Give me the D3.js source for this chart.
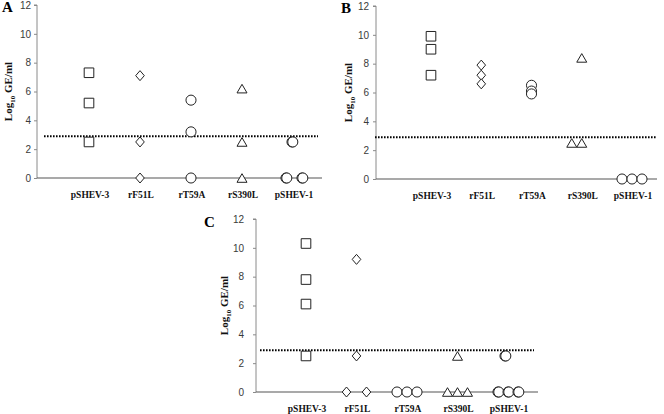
<!DOCTYPE html>
<html>
<head>
<meta charset="utf-8">
<script src="https://cdn.jsdelivr.net/npm/d3@7"></script>
<style>
  html, body { margin: 0; padding: 0; background: #fff; }
  svg { display: block; }
</style>
</head>
<body>
<svg id="chart" width="664" height="414"></svg>
<script>
// ---------- data ----------
const categories = ["pSHEV-3", "rF51L", "rT59A", "rS390L", "pSHEV-1"];
const markerShapes = ["square", "diamond", "circle", "triangle", "circle"];
const yTicks = [0, 2, 4, 6, 8, 10, 12];
const detectionLimit = 2.9;
const yAxisTitle = "Log10 GE/ml";

// values per category (Log10 GE/ml)
const panelAValues = [[7.3, 5.2, 2.5], [7.1, 2.5, 0], [5.4, 3.2, 0], [6.2, 2.5, 0], [2.5, 2.5, 0, 0, 0, 0]];
const panelBValues = [[9.9, 9.0, 7.2], [7.9, 7.2, 6.6], [6.5, 6.1, 5.9], [8.4, 2.5, 2.5], [0, 0, 0]];
const panelCValues = [[10.3, 7.8, 6.1, 2.5], [9.2, 2.5, 0, 0], [0, 0, 0], [2.5, 0, 0, 0], [2.5, 2.5, 0, 0, 0, 0, 0, 0]];

// horizontal jitter slot of each point (to separate overlapping points)
const panelAJitter = [[0, 0, 0], [0, 0, 0], [0, 0, 0], [0, 0, 0], [-0.1, -0.02, -0.7, -0.62, 0.9, 0.98]];
const panelBJitter = [[0, 0, 0], [0, 0, 0], [0, 0, 0], [0, -1, 0], [-1, 0, 1]];
const panelCJitter = [[0, 0, 0, 0], [0, 0, -1, 1], [-1, 0, 1], [0, -1, 0, 1], [-0.3, -0.22, -1, -0.92, 0, 0.08, 1, 1.08]];

// ---------- layout ----------
const panels = [
  { label: "A", values: panelAValues, jitter: panelAJitter,
    axisX: 37, yTop: 5, yBottom: 178, xRight: 322, xFirst: 89, xLast: 293,
    tickPad: 3, titleX: 12, letterX: 2, letterY: 12, dotStart: 44, dotEnd: 318 },
  { label: "B", values: panelBValues, jitter: panelBJitter,
    axisX: 376, yTop: 6, yBottom: 179, xRight: 657, xFirst: 431, xLast: 632,
    tickPad: 4, titleX: 352, letterX: 341, letterY: 13, dotStart: 375, dotEnd: 657 },
  { label: "C", values: panelCValues, jitter: panelCJitter,
    axisX: 256, yTop: 219, yBottom: 392, xRight: 538, xFirst: 306, xLast: 508,
    tickPad: 9, titleX: 228, letterX: 204, letterY: 227, dotStart: 260, dotEnd: 534 }
];

const svg = d3.select("#chart");
svg.append("rect").attr("width", 664).attr("height", 414).attr("fill", "#fff");

const jitterPx = 10;
// marker outlines centred on their bounding box
const symbolFor = {
  square: () => "M-4.8,-4.8H4.8V4.8H-4.8Z",
  diamond: () => "M0,-5L4.3,0L0,5L-4.3,0Z",
  circle: () => d3.symbol().type(d3.symbolCircle).size(80)(),
  triangle: () => "M0,-4.3L5,4.3H-5Z"
};

panels.forEach(p => {
  const g = svg.append("g");
  const y = d3.scaleLinear().domain([0, 12]).range([p.yBottom, p.yTop]);
  const x = d3.scalePoint().domain(categories).range([p.xFirst, p.xLast]);

  // y axis
  const yAxis = d3.axisLeft(y).tickValues(yTicks).tickSize(3).tickPadding(p.tickPad);
  const ya = g.append("g").attr("transform", `translate(${p.axisX},0)`).call(yAxis);
  ya.select(".domain").attr("stroke", "#8a8a8a").attr("d", `M-3,${y(12)}H0V${y(0)}`);
  ya.selectAll(".tick line").attr("stroke", "#8a8a8a");
  ya.selectAll(".tick text")
    .attr("fill", "#3a3a3a")
    .style("font-family", "'Liberation Sans Narrow', 'Liberation Sans', Arial, sans-serif")
    .style("font-size", "10px");

  // x axis line
  g.append("line")
    .attr("x1", p.axisX).attr("x2", p.xRight)
    .attr("y1", y(0)).attr("y2", y(0))
    .attr("stroke", "#555").attr("stroke-width", 1.2);

  // category labels
  g.selectAll("text.cat").data(categories).enter().append("text")
    .attr("class", "cat")
    .attr("x", d => x(d) + 1).attr("y", y(0) + 20)
    .attr("text-anchor", "middle")
    .style("font-family", "'Liberation Serif', 'Times New Roman', serif")
    .style("font-weight", "bold").style("font-size", "9.5px")
    .attr("fill", "#111")
    .text(d => d);

  // detection limit dotted line
  g.append("line")
    .attr("x1", p.dotStart).attr("x2", p.dotEnd)
    .attr("y1", y(detectionLimit)).attr("y2", y(detectionLimit))
    .attr("stroke", "#000").attr("stroke-width", 2)
    .attr("stroke-dasharray", "1.6,1.4");

  // points
  const pts = [];
  p.values.forEach((arr, ci) => arr.forEach((v, k) => pts.push({
    cat: categories[ci], shape: markerShapes[ci], v, j: p.jitter[ci][k]
  })));
  g.selectAll("path.pt").data(pts).enter().append("path")
    .attr("class", "pt")
    .attr("d", d => symbolFor[d.shape]())
    .attr("transform", d => `translate(${x(d.cat) + d.j * jitterPx},${y(d.v)})`)
    .attr("fill", "#fff").attr("stroke", "#222").attr("stroke-width", 1);

  // y-axis title
  const t = g.append("text")
    .attr("transform", `translate(${p.titleX},${(p.yTop + p.yBottom) / 2}) rotate(-90)`)
    .attr("text-anchor", "middle")
    .style("font-family", "'Liberation Serif', 'Times New Roman', serif")
    .style("font-weight", "bold").style("font-size", "11px")
    .attr("fill", "#111");
  t.append("tspan").text(yAxisTitle.slice(0, 3));
  t.append("tspan").attr("dy", 2.5).style("font-size", "7px").text(yAxisTitle.slice(3, 5));
  t.append("tspan").attr("dy", -2.5).text(yAxisTitle.slice(5));

  // panel letter
  g.append("text")
    .attr("x", p.letterX).attr("y", p.letterY)
    .style("font-family", "'Liberation Serif', 'Times New Roman', serif")
    .style("font-weight", "bold").style("font-size", "15px")
    .attr("fill", "#000")
    .text(p.label);
});
</script>
</body>
</html>
